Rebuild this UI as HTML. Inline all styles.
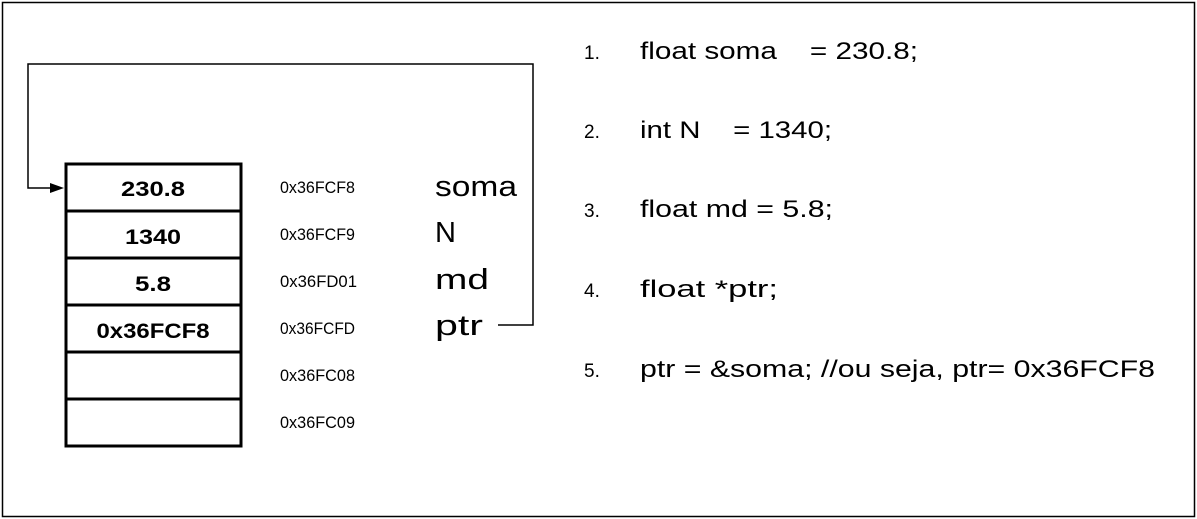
<!DOCTYPE html>
<html><head><meta charset="utf-8"><style>
html,body{margin:0;padding:0;background:#fff;}
svg{display:block;}
text{font-family:"Liberation Sans",sans-serif;fill:#000;}
</style></head><body>
<svg width="1197" height="519" viewBox="0 0 1197 519" xmlns="http://www.w3.org/2000/svg">
<rect x="2.5" y="2.5" width="1192" height="514" fill="none" stroke="#000" stroke-width="1.5"/>
<g fill="none" stroke="#000" stroke-width="3">
<rect x="66" y="164" width="175" height="282"/>
<line x1="66" y1="211" x2="241" y2="211"/>
<line x1="66" y1="258" x2="241" y2="258"/>
<line x1="66" y1="305" x2="241" y2="305"/>
<line x1="66" y1="352" x2="241" y2="352"/>
<line x1="66" y1="399" x2="241" y2="399"/>
</g>
<polyline points="498,325 533,325 533,64 28,64 28,188 52,188" fill="none" stroke="#000" stroke-width="1.5"/>
<polygon points="64,188 50,183 50,193" fill="#000"/>
<g font-weight="bold" font-size="21" text-anchor="middle">
<text x="153" y="196" textLength="64" lengthAdjust="spacingAndGlyphs">230.8</text>
<text x="153" y="244" textLength="56" lengthAdjust="spacingAndGlyphs">1340</text>
<text x="153" y="291" textLength="36" lengthAdjust="spacingAndGlyphs">5.8</text>
<text x="153" y="338" textLength="113" lengthAdjust="spacingAndGlyphs">0x36FCF8</text>
</g>
<g font-size="17">
<text x="280" y="193" textLength="75" lengthAdjust="spacingAndGlyphs">0x36FCF8</text>
<text x="280" y="240" textLength="75" lengthAdjust="spacingAndGlyphs">0x36FCF9</text>
<text x="280" y="287" textLength="77" lengthAdjust="spacingAndGlyphs">0x36FD01</text>
<text x="280" y="334" textLength="75" lengthAdjust="spacingAndGlyphs">0x36FCFD</text>
<text x="280" y="381" textLength="75" lengthAdjust="spacingAndGlyphs">0x36FC08</text>
<text x="280" y="428" textLength="75" lengthAdjust="spacingAndGlyphs">0x36FC09</text>
</g>
<g font-size="29">
<text x="435" y="196" textLength="82" lengthAdjust="spacingAndGlyphs">soma</text>
<text x="435" y="242">N</text>
<text x="435" y="289" textLength="54" lengthAdjust="spacingAndGlyphs">md</text>
<text x="435" y="335" textLength="48" lengthAdjust="spacingAndGlyphs">ptr</text>
</g>
<g font-size="19">
<text x="584" y="59">1.</text>
<text x="584" y="138">2.</text>
<text x="584" y="217">3.</text>
<text x="584" y="297">4.</text>
<text x="584" y="377">5.</text>
</g>
<g font-size="24">
<text x="640" y="59" xml:space="preserve" textLength="278" lengthAdjust="spacingAndGlyphs">float soma    = 230.8;</text>
<text x="640" y="138" xml:space="preserve" textLength="192" lengthAdjust="spacingAndGlyphs">int N    = 1340;</text>
<text x="640" y="217" textLength="193" lengthAdjust="spacingAndGlyphs">float md = 5.8;</text>
<text x="640" y="297" textLength="138" lengthAdjust="spacingAndGlyphs">float *ptr;</text>
<text x="640" y="377" textLength="515" lengthAdjust="spacingAndGlyphs">ptr = &amp;soma; //ou seja, ptr= 0x36FCF8</text>
</g>
</svg>
</body></html>
